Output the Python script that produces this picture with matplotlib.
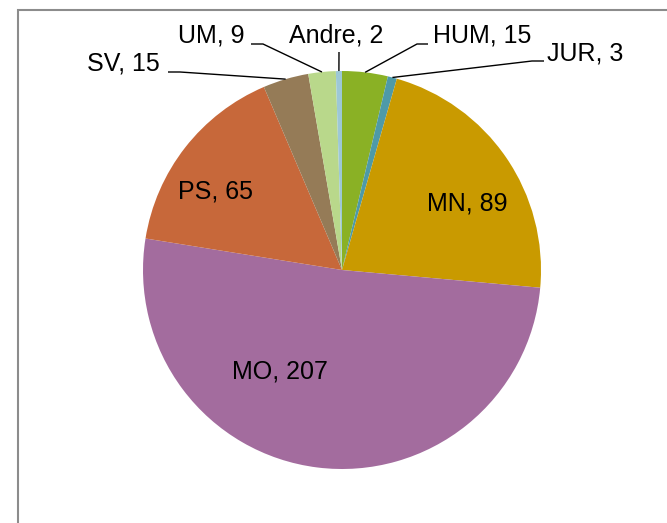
import numpy as np
import matplotlib.pyplot as plt
from matplotlib.patches import Rectangle

# data, clockwise from 12 o'clock
labels = ["HUM", "JUR", "MN", "MO", "PS", "SV", "UM", "Andre"]
values = [15, 3, 89, 207, 65, 15, 9, 2]
colors = ["#8AB125", "#4E9AA8", "#C99A00", "#A36C9E",
          "#C7683A", "#957B57", "#B9D88B", "#9DC8D6"]

W, H = 667, 523
CX, CY, R = 342, 270, 199   # pie centre / radius in pixels (y down)


def py(y):
    return H - y


fig = plt.figure(figsize=(W / 100, H / 100), dpi=100)
ax = fig.add_axes([0, 0, 1, 1])

ax.pie(values, colors=colors, startangle=90, counterclock=False,
       center=(CX, py(CY)), radius=R, frame=True,
       wedgeprops=dict(linewidth=0))
ax.set_xlim(0, W)
ax.set_ylim(0, H)
ax.set_aspect("equal")
ax.axis("off")

# chart frame (partly outside the picture)
ax.add_patch(Rectangle((18, -20), 800, py(10) + 20, fill=False,
                       edgecolor="#8C8C8C", lw=1.5))

# mid angle of every slice (degrees, math convention)
tot = sum(values)
cum = np.cumsum([0] + values)
mids = [90 - 360 * (cum[i] + values[i] / 2) / tot for i in range(len(values))]

font = dict(family=["Liberation Sans", "DejaVu Sans"], fontsize=18, color="black")

# labels inside the pie: (x, y) text centre
inside = {"MN": (467, 204), "MO": (280, 372), "PS": (215, 192)}
# labels outside: text anchor, elbow point(s), text alignment
outside = {
    "HUM": ((433, 36), [(428, 44), (417, 44)], "left"),
    "JUR": ((547, 53), [(544, 61), (532, 61)], "left"),
    "UM": ((245, 36), [(251, 44), (263, 44)], "right"),
    "Andre": ((336, 36), [(339, 52)], "center"),
    "SV": ((160, 64), [(168, 72), (180, 72)], "right"),
}

for i, lab in enumerate(labels):
    txt = f"{lab}, {values[i]}"
    if lab in inside:
        x, y = inside[lab]
        ax.text(x, py(y), txt, ha="center", va="center", **font)
    else:
        (tx, ty), pts, ha = outside[lab]
        a = np.deg2rad(mids[i])
        ex, ey = CX + R * np.cos(a), CY - R * np.sin(a)
        xs = [p[0] for p in pts] + [ex]
        ys = [py(p[1]) for p in pts] + [py(ey)]
        ax.plot(xs, ys, color="black", lw=1.0, solid_capstyle="butt")
        ax.text(tx, py(ty), txt, ha=ha, va="center", **font)

fig.savefig("out.png", dpi=100)
